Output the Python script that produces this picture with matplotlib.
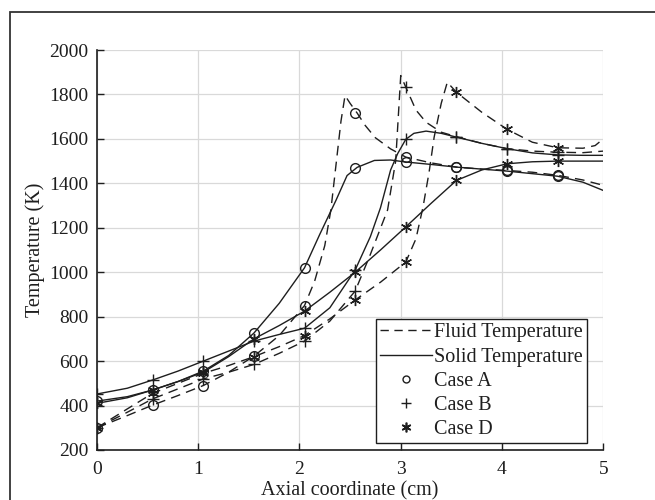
import numpy as np
import matplotlib
matplotlib.use("Agg")
import matplotlib.pyplot as plt
from matplotlib.lines import Line2D
from matplotlib.patches import Rectangle

plt.rcParams['font.family'] = ['Liberation Serif', 'DejaVu Serif']
plt.rcParams['font.size'] = 14

# marker positions along the axis (cm)
mark_x = [0, 0.55, 1.05, 1.55, 2.05, 2.55, 3.05, 3.55, 4.05, 4.55]

# Case A
fluidA_x = [0, 0.3, 0.55, 0.8, 1.05, 1.3, 1.55, 1.8, 2.05, 2.15, 2.25, 2.31, 2.36, 2.41, 2.45,
            2.5, 2.57, 2.65, 2.75, 2.9, 3.05, 3.3, 3.55, 3.8, 4.05, 4.3, 4.55, 4.8, 5.0]
fluidA_T = [300, 355, 402, 445, 490, 550, 622, 715, 850, 960, 1120, 1280, 1480, 1680, 1795,
            1760, 1716, 1660, 1605, 1555, 1518, 1492, 1473, 1464, 1458, 1450, 1436, 1415, 1391]
solidA_x = [0, 0.3, 0.55, 0.8, 1.05, 1.3, 1.55, 1.8, 2.05, 2.2, 2.36, 2.47, 2.57, 2.74,
            2.9, 3.05, 3.3, 3.55, 4.05, 4.55, 4.8, 5.0]
solidA_T = [420, 440, 470, 508, 555, 625, 726, 860, 1020, 1170, 1323, 1435, 1472, 1503,
            1505, 1496, 1485, 1473, 1455, 1432, 1405, 1368]
fluidA_mark = [300, 402, 490, 622, 850, 1716, 1518, 1473, 1458, 1436]
solidA_mark = [420, 470, 555, 726, 1020, 1470, 1496, 1473, 1455, 1432]

# Case B
fluidB_x = [0, 0.3, 0.55, 0.8, 1.05, 1.3, 1.55, 1.8, 2.05, 2.3, 2.55, 2.7, 2.87, 2.95, 3.0,
            3.05, 3.15, 3.25, 3.4, 3.55, 3.8, 4.05, 4.3, 4.55, 4.8, 5.0]
fluidB_T = [300, 370, 430, 475, 520, 550, 585, 635, 690, 780, 915, 1080, 1280, 1500, 1885,
            1833, 1730, 1675, 1630, 1610, 1580, 1556, 1545, 1540, 1538, 1545]
solidB_x = [0, 0.3, 0.55, 0.8, 1.05, 1.3, 1.55, 1.8, 2.05, 2.3, 2.55, 2.7, 2.8, 2.9, 2.97,
            3.05, 3.13, 3.25, 3.4, 3.55, 3.8, 4.05, 4.3, 4.55, 4.8, 5.0]
solidB_T = [452, 478, 515, 555, 600, 645, 690, 720, 748, 840, 1010, 1160, 1290, 1460, 1534,
            1598, 1625, 1635, 1625, 1608, 1580, 1556, 1537, 1528, 1526, 1526]
fluidB_mark = [300, 430, 520, 585, 690, 915, 1833, 1610, 1556, 1540]
solidB_mark = [452, 515, 600, 690, 748, 1010, 1598, 1608, 1556, 1528]

# Case D
fluidD_x = [0, 0.3, 0.55, 0.8, 1.05, 1.3, 1.55, 1.8, 2.05, 2.3, 2.55, 2.8, 3.05, 3.15, 3.22,
            3.28, 3.33, 3.4, 3.46, 3.55, 3.8, 4.05, 4.3, 4.55, 4.8, 4.92, 5.0]
fluidD_T = [300, 385, 455, 500, 545, 580, 620, 665, 715, 790, 875, 955, 1046, 1150, 1293,
            1450, 1608, 1760, 1855, 1810, 1720, 1643, 1585, 1560, 1558, 1570, 1600]
solidD_x = [0, 0.3, 0.55, 0.8, 1.05, 1.3, 1.55, 1.8, 2.05, 2.3, 2.55, 2.8, 3.05, 3.3, 3.55,
            3.8, 4.05, 4.3, 4.55, 4.8, 5.0]
solidD_T = [410, 435, 470, 508, 550, 620, 700, 760, 825, 910, 1000, 1100, 1204, 1310, 1413,
            1460, 1488, 1497, 1500, 1500, 1500]
fluidD_mark = [300, 455, 545, 620, 715, 875, 1046, 1810, 1643, 1560]
solidD_mark = [410, 470, 550, 700, 825, 1000, 1204, 1413, 1488, 1500]

ink = '#1e1e1e'
dash = (0, (7, 4.5))
asterisk = (6, 2, 0)

fig = plt.figure(figsize=(6.55, 5.0), dpi=100)
ax = fig.add_axes([0.148, 0.1, 0.773, 0.8])

cases = [
    (fluidA_x, fluidA_T, solidA_x, solidA_T, fluidA_mark, solidA_mark, 'o', 7),
    (fluidB_x, fluidB_T, solidB_x, solidB_T, fluidB_mark, solidB_mark, '+', 8),
    (fluidD_x, fluidD_T, solidD_x, solidD_T, fluidD_mark, solidD_mark, asterisk, 8),
]
for fx, fT, sx, sT, fm, sm, mk, ms in cases:
    ax.plot(fx, fT, color=ink, lw=1.0, linestyle=dash)
    ax.plot(sx, sT, color=ink, lw=1.0)
    for vals in (fm, sm):
        ax.plot(mark_x, vals, linestyle='none', marker=mk, ms=ms, mfc='none',
                mec=ink, mew=1.0)

ax.set_xlim(0, 5)
ax.set_ylim(200, 2000)
ax.set_xticks(np.arange(0, 6, 1))
ax.set_yticks(np.arange(200, 2001, 200))
ax.grid(True, color='#d9d9d9', lw=0.9)
ax.set_axisbelow(True)
ax.tick_params(direction='in', length=5, width=1, colors=ink, labelsize=14)
ax.tick_params(axis='x', pad=8)
ax.tick_params(axis='y', pad=6)
for s in ['top', 'right']:
    ax.spines[s].set_visible(False)
for s in ['left', 'bottom']:
    ax.spines[s].set_color(ink)
    ax.spines[s].set_linewidth(1.2)

ax.set_xlabel('Axial coordinate (cm)', fontsize=14.5, color=ink, labelpad=2)
ax.set_ylabel('Temperature (K)', fontsize=14.5, color=ink, labelpad=3)

handles = [
    Line2D([], [], color=ink, lw=1.0, linestyle=(0, (6, 4))),
    Line2D([], [], color=ink, lw=1.0),
    Line2D([], [], linestyle='none', marker='o', ms=5, mfc='none', mec=ink, mew=1.0),
    Line2D([], [], linestyle='none', marker='+', ms=7, mec=ink, mew=1.0),
    Line2D([], [], linestyle='none', marker=asterisk, ms=7, mec=ink, mew=1.2),
]
labels = ['Fluid Temperature', 'Solid Temperature', 'Case A', 'Case B', 'Case D']
leg = ax.legend(handles, labels, loc='lower right', bbox_to_anchor=(0.968, 0.0175),
                borderaxespad=0, fontsize=14.5, handlelength=2.6, handletextpad=0.1,
                labelspacing=0.25, borderpad=0.2, fancybox=False, framealpha=1)
leg.get_frame().set_edgecolor(ink)
leg.get_frame().set_linewidth(1.0)
for t in leg.get_texts():
    t.set_color(ink)

# outer frame of the picture
fig.patches.append(Rectangle((0.0153, -0.1), 1.2, 1.076, transform=fig.transFigure,
                             fill=False, edgecolor='#333333', lw=1.3))

fig.savefig('out.png', dpi=100)
